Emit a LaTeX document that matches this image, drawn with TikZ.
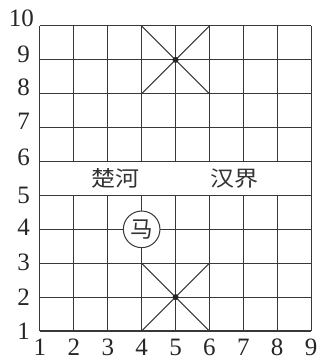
\documentclass[tikz,border=0pt]{standalone}
\usepackage{fontspec}
\setmainfont{Liberation Serif}
\newfontfamily\cjk{Noto Sans CJK SC}
\begin{document}
\begin{tikzpicture}[x=1cm,y=1cm,
  gridline/.style={line width=0.85pt, draw=black!78},
  numlbl/.style={font=\fontsize{21}{21}\selectfont, inner sep=0pt, text=black!85},
  riverlbl/.style={font=\cjk\fontsize{18}{18}\selectfont, inner sep=0pt, text=black!80, xscale=1.12, transform shape},
  piece/.style={circle, draw=black!78, line width=0.85pt, fill=white, minimum size=1.08cm, inner sep=0pt, font=\cjk\fontsize{19}{19}\selectfont, text=black!80}]
\useasboundingbox (-0.18,0.174) rectangle (9.265,10.767);
% horizontal lines
\foreach \j in {1,...,10} \draw[gridline] (1,\j) -- (9,\j);
% vertical lines
\foreach \i in {2,...,8} {
  \draw[gridline] (\i,1) -- (\i,5);
  \draw[gridline] (\i,6) -- (\i,10);
}
\draw[gridline] (1,1) -- (1,10);
\draw[gridline] (9,1) -- (9,10);
% palaces
\draw[gridline] (4,8) -- (6,10) (4,10) -- (6,8);
\draw[gridline] (4,1) -- (6,3) (4,3) -- (6,1);
\fill[black!85] (5,9) circle (0.09) (5,2) circle (0.09);
% river text
\node[riverlbl] (chu) at (3.23,5.5) {楚河};
\node[riverlbl] (han) at (6.74,5.5) {汉界};
% piece
\node[piece] (ma) at (4,4) {马};
% x labels
\foreach \i in {1,...,9} \node[numlbl] (x\i) at (\i,0.53) {\i};
% y labels
\foreach \j/\d in {1/0,2/0,3/0.04,4/0.07,5/0,6/0.12,7/0.18,8/0.18,9/0.15} \node[numlbl] (y\j) at (0.52,\j+\d) {\j};
\node[numlbl] (y10) at (0.45,10.22) {10};
\end{tikzpicture}
\end{document}
